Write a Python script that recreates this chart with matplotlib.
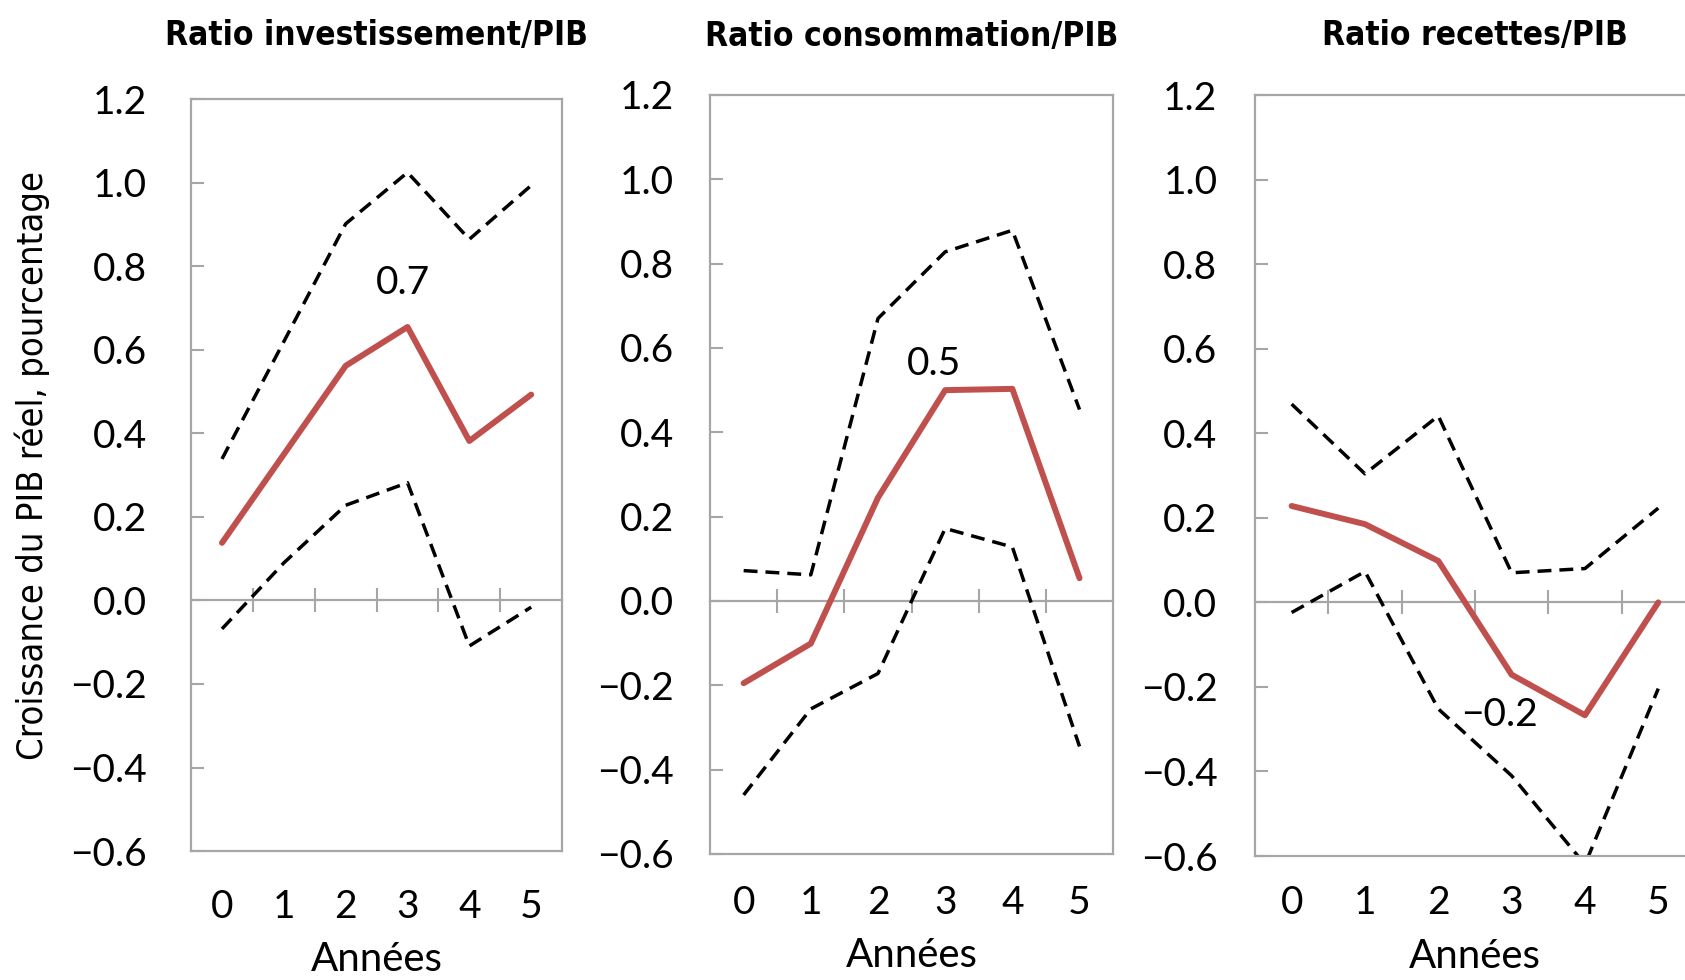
import numpy as np
import matplotlib
matplotlib.use('Agg')
import matplotlib.pyplot as plt

years = [0, 1, 2, 3, 4, 5]
titles = ['Ratio investissement/PIB', 'Ratio consommation/PIB', 'Ratio recettes/PIB']

# point estimate and 90% bands
invest_mid = [0.138, 0.35, 0.562, 0.655, 0.382, 0.493]
invest_hi = [0.339, 0.62, 0.902, 1.025, 0.865, 0.994]
invest_lo = [-0.068, 0.09, 0.228, 0.282, -0.109, -0.016]

conso_mid = [-0.195, -0.101, 0.245, 0.50, 0.503, 0.054]
conso_hi = [0.072, 0.062, 0.67, 0.828, 0.879, 0.454]
conso_lo = [-0.46, -0.256, -0.172, 0.172, 0.128, -0.345]

recet_mid = [0.228, 0.185, 0.098, -0.171, -0.267, 0.0]
recet_hi = [0.469, 0.304, 0.441, 0.07, 0.08, 0.223]
recet_lo = [-0.024, 0.073, -0.252, -0.41, -0.62, -0.204]

labels = ['0.7', '0.5', '\u22120.2']
label_at = [3, 3, 3]
label_off = [(-3, 32), (-8, 19), (-9, -29)]

yticks = [-0.6, -0.4, -0.2, 0.0, 0.2, 0.4, 0.6, 0.8, 1.0, 1.2]
ytick_labels = [('%.1f' % v).replace('-', '\u2212') for v in yticks]

red = '#C0504D'
grey = '#A6A6A6'
num_font = ['Lato', 'DejaVu Sans']
narrow = ['DejaVu Sans']

fig = plt.figure(figsize=(16.85, 9.8), dpi=100)
rects = [[0.1134, 0.1316, 0.2202, 0.767],
         [0.4214, 0.1286, 0.2392, 0.7745],
         [0.7448, 0.1265, 0.2611, 0.7765]]
ypads = [32, 26, 27]
xpads = [27, 22, 21]
tpads = [39, 35, 36]

data = [(invest_mid, invest_hi, invest_lo),
        (conso_mid, conso_hi, conso_lo),
        (recet_mid, recet_hi, recet_lo)]

for k in range(3):
    ax = fig.add_axes(rects[k])
    mid, hi, lo = data[k]
    ax.plot(years, hi, color='black', lw=2.5, ls=(0, (4, 2.3)))
    ax.plot(years, lo, color='black', lw=2.5, ls=(0, (4, 2.3)))
    ax.plot(years, mid, color=red, lw=4.3, solid_capstyle='round', zorder=3)
    i = label_at[k]
    ax.annotate(labels[k], (years[i], mid[i]), xytext=label_off[k],
                textcoords='offset points', ha='center', va='center',
                fontsize=28, family=num_font)

    ax.set_xlim(-0.5, 5.5)
    ax.set_ylim(-0.6, 1.2)
    ax.set_xticks(years)
    ax.set_xticklabels([str(y) for y in years], family=num_font)
    ax.set_yticks(yticks)
    ax.set_yticklabels(ytick_labels, family=num_font)
    ax.tick_params(axis='x', length=0, labelsize=28, pad=xpads[k])
    ax.tick_params(axis='y', direction='in', length=9, width=1.5, color=grey,
                   labelsize=28, pad=ypads[k])
    for s in ax.spines.values():
        s.set_color(grey)
        s.set_linewidth(1.6)

    # zero line with category ticks between years
    zpos = (0 - ax.get_ylim()[0]) / (ax.get_ylim()[1] - ax.get_ylim()[0])
    zax = ax.secondary_xaxis(zpos)
    zax.set_xticks(np.array(years[:-1]) + 0.5)
    zax.tick_params(direction='inout', length=17, width=1.5, color=grey,
                    labelbottom=False, labeltop=False)
    zax.spines['bottom'].set_color(grey)
    zax.spines['bottom'].set_linewidth(1.6)
    zax.spines['top'].set_visible(False)

    ax.set_title(titles[k], fontsize=24, fontweight='bold', family=narrow,
                 fontstretch='condensed', pad=tpads[k])
    ax.set_xlabel('Ann\u00e9es', fontsize=29, family=num_font, labelpad=12)

fig.text(32 / 1685, 0.525, 'Croissance du PIB r\u00e9el, pourcentage',
         rotation=90, ha='center', va='center', fontsize=26, family=narrow,
         fontstretch='condensed')

fig.savefig('out.png', dpi=100)
